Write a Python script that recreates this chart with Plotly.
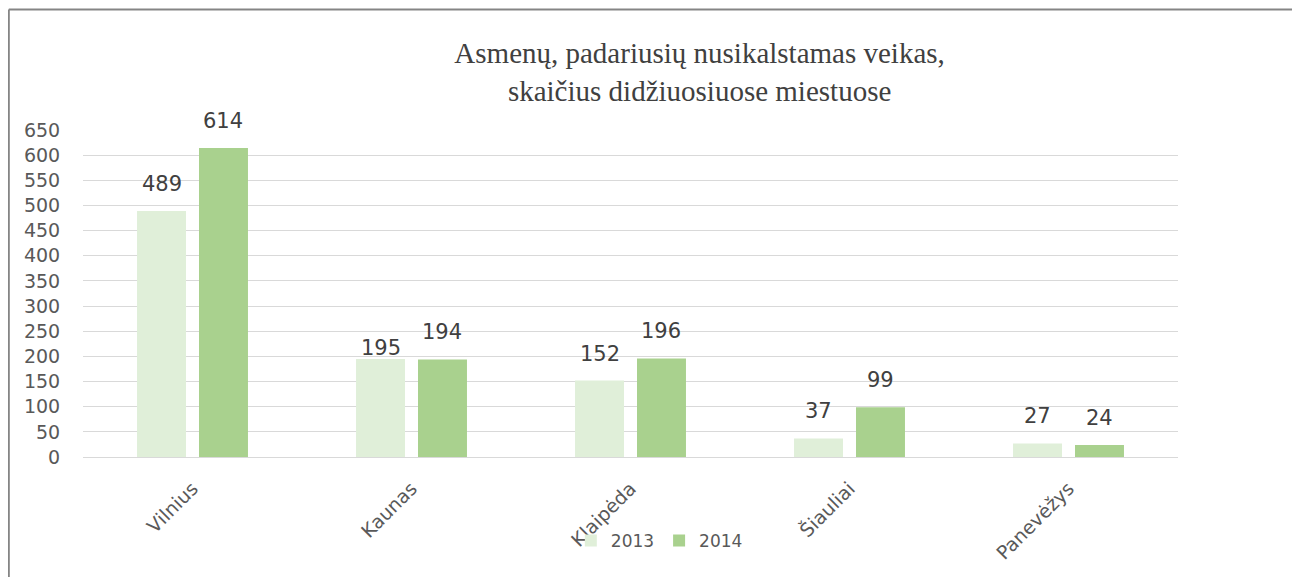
import plotly.graph_objects as go

cities = ["Vilnius", "Kaunas", "Klaipėda", "Šiauliai", "Panevėžys"]
values_2013 = [489, 195, 152, 37, 27]
values_2014 = [614, 194, 196, 99, 24]
series_names = ["2013", "2014"]
title_text = "Asmenų, padariusių nusikalstamas veikas,<br>skaičius didžiuosiuose miestuose"

# label vertical nudges (px) as placed in the original chart
label_shift_2013 = [13, -3, 13, 13, 13]
label_shift_2014 = [13, 13, 13, 13, 13]

colors = ["#e0efd9", "#a9d18e"]
SANS = "DejaVu Sans, Open Sans, sans-serif"
BARGAP = 0.434
BARGROUPGAP = 0.21

fig = go.Figure()
for name, vals, col in zip(series_names, [values_2013, values_2014], colors):
    fig.add_trace(go.Bar(
        x=cities, y=vals, name=name, marker=dict(color=col, line=dict(width=0)),
    ))

slot = (1 - BARGAP) / 2
annotations = []
for k, (vals, shifts) in enumerate([(values_2013, label_shift_2013), (values_2014, label_shift_2014)]):
    off = (k - 0.5) * slot
    for i, v in enumerate(vals):
        annotations.append(dict(
            x=i + off, y=v, xref="x", yref="y", text=str(v), showarrow=False,
            xanchor="center", yanchor="bottom", yshift=shifts[i],
            font=dict(family=SANS, size=21, color="#404040"),
        ))

fig.update_layout(
    width=1300, height=577,
    paper_bgcolor="white", plot_bgcolor="white",
    margin=dict(l=75, r=130, t=122, b=128),
    barmode="group", bargap=BARGAP, bargroupgap=BARGROUPGAP,
    title=dict(text=title_text, x=0.532, xanchor="center", y=0.904, yanchor="middle",
               font=dict(family="Liberation Serif, Times New Roman, serif", size=29, color="#404040")),
    xaxis=dict(tickangle=-45, tickfont=dict(family=SANS, size=19, color="#595959"),
               showline=False, ticks="outside", ticklen=12, tickcolor="rgba(0,0,0,0)", showgrid=False),
    yaxis=dict(range=[0, 650], dtick=50, showgrid=True, gridcolor="#d9d9d9", gridwidth=1,
               zeroline=True, zerolinecolor="#d9d9d9", zerolinewidth=1,
               tickfont=dict(family=SANS, size=19, color="#595959"),
               ticks="outside", ticklen=18, tickcolor="rgba(0,0,0,0)", showline=False),
    legend=dict(orientation="h", x=0.4455, xanchor="left", y=-0.257, yanchor="middle",
                font=dict(family=SANS, size=17, color="#595959"),
                bgcolor="rgba(0,0,0,0)"),
    annotations=annotations,
)

# chart frame: top and left edges only
x_left = (0.8 - 75) / 1095
y_top = (449 - 1.5) / 327
fig.add_shape(type="line", xref="paper", yref="paper",
              x0=x_left, x1=(1400 - 75) / 1095, y0=y_top, y1=y_top,
              line=dict(color="#858585", width=2), layer="below")
fig.add_shape(type="line", xref="paper", yref="paper",
              x0=x_left, x1=x_left, y0=y_top, y1=(449 - 650) / 327,
              line=dict(color="#858585", width=2), layer="below")

fig.write_html("out.html")
